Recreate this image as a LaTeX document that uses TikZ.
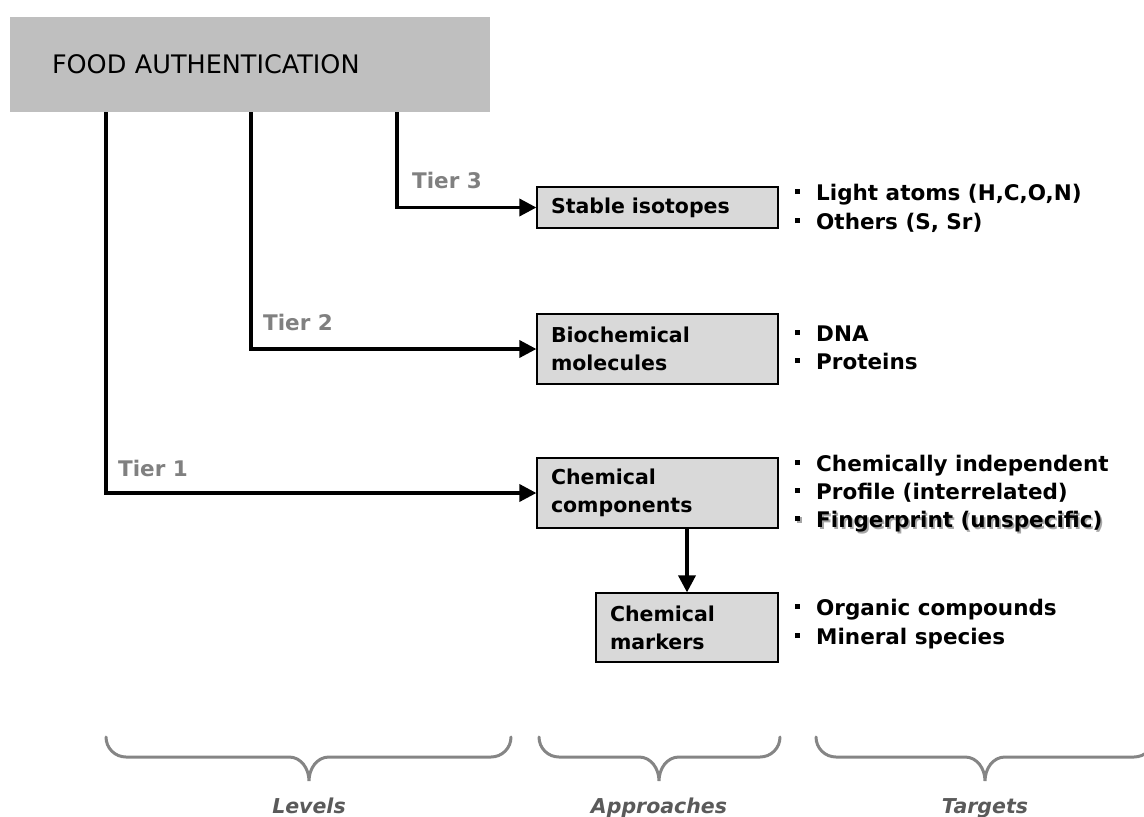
\documentclass[tikz,border=0pt]{standalone}
\usepackage{fontspec}
\setmainfont{DejaVu Sans}
\usetikzlibrary{arrows.meta}

\definecolor{headgray}{HTML}{BFBFBF}
\definecolor{boxgray}{HTML}{D9D9D9}
\definecolor{tiergray}{HTML}{808080}
\definecolor{bracegray}{HTML}{858585}
\definecolor{labelgray}{HTML}{5A5A5A}

% small square bullet followed by the gap before the item text
\newcommand{\sqbullet}{\raisebox{6.5pt}{\rule{5pt}{5.5pt}}\hspace{16pt}}

\tikzset{
  headbox/.style={rectangle, fill=headgray, inner ysep=0pt, align=left,
    font=\fontsize{25.5}{30}\selectfont},
  stepbox/.style={rectangle, draw=black, line width=1.2pt, fill=boxgray,
    inner xsep=14pt, inner ysep=0pt, align=left,
    font=\fontsize{20.5}{28}\selectfont\bfseries},
  conn/.style={line width=3.5pt, -{Triangle[length=17pt,width=17pt]}},
  tier/.style={anchor=base west, inner sep=0pt, text=tiergray,
    font=\fontsize{21.5}{25}\selectfont\bfseries},
  item/.style={anchor=base west, inner sep=0pt,
    font=\fontsize{21.5}{25}\selectfont\bfseries},
  bracepath/.style={draw=bracegray, line width=3pt, line cap=round},
  groupname/.style={anchor=base, inner sep=0pt, text=labelgray,
    font=\fontsize{20.5}{24}\selectfont\bfseries\itshape},
}

\begin{document}
\begin{tikzpicture}[x=1pt,y=-1pt]
\useasboundingbox (0,0) rectangle (1144,817);
\clip (0,0) rectangle (1144,817);

% heading box
\node[headbox, minimum width=480pt, minimum height=95pt, text width=396pt,
  inner xsep=42pt] (fa) at (250,64.5) {FOOD AUTHENTICATION};

% approaches
\node[stepbox, minimum width=241pt, minimum height=41pt, text width=213pt]
  (si) at (657.5,207.5) {Stable isotopes};
\node[stepbox, minimum width=241pt, minimum height=70pt, text width=213pt]
  (bm) at (657.5,349) {Biochemical\\molecules};
\node[stepbox, minimum width=241pt, minimum height=70pt, text width=213pt]
  (cc) at (657.5,493) {Chemical\\components};
\node[stepbox, minimum width=182pt, minimum height=69pt, text width=154pt]
  (mk) at (687,627.5) {Chemical\\markers};

% tiers
\draw[conn] ([xshift=387pt]fa.south west) |- (si.west);
\draw[conn] ([xshift=241pt]fa.south west) |- (bm.west);
\draw[conn] ([xshift=96pt]fa.south west) |- (cc.west);
\draw[conn] (mk.north |- cc.south) -- (mk.north);

\node[tier] (t3) at (412,188.5) {Tier 3};
\node[tier] (t2) at (263,330) {Tier 2};
\node[tier] (t1) at (118,476) {Tier 1};

% targets
\node[item] (s1) at (795,200.5) {\sqbullet Light atoms (H,C,O,N)};
\node[item] (s2) at (795,229.5) {\sqbullet Others (S, Sr)};
\node[item] (b1) at (795,341.5) {\sqbullet DNA};
\node[item] (b2) at (795,369.5) {\sqbullet Proteins};
\node[item] (c1) at (795,471.5) {\sqbullet Chemically independent};
\node[item] (c2) at (795,499.5) {\sqbullet Profile (interrelated)};
\node[item, text=black!35] (c3s) at (796.8,529.3) {\sqbullet Fingerprint (unspecific)};
\node[item] (c3) at (795,527.5) {\sqbullet Fingerprint (unspecific)};
\node[item] (m1) at (795,615.5) {\sqbullet Organic compounds};
\node[item] (m2) at (795,644.5) {\sqbullet Mineral species};

% group braces
\draw[bracepath] (106,737) to[out=-90,in=180] (126,757) -- (289,757)
  to[out=0,in=90] (309,781) to[out=90,in=180] (329,757) -- (491,757)
  to[out=0,in=-90] (511,737);
\draw[bracepath] (539,737) to[out=-90,in=180] (559,757) -- (639,757)
  to[out=0,in=90] (659,781) to[out=90,in=180] (679,757) -- (760,757)
  to[out=0,in=-90] (780,737);
\draw[bracepath] (816,737) to[out=-90,in=180] (836,757) -- (965,757)
  to[out=0,in=90] (985,781) to[out=90,in=180] (1005,757) -- (1134,757)
  to[out=0,in=-90] (1154,737);

\node[groupname] (lv) at (309,813) {Levels};
\node[groupname] (ap) at (659,813) {Approaches};
\node[groupname] (tg) at (985,813) {Targets};
\end{tikzpicture}
\end{document}
